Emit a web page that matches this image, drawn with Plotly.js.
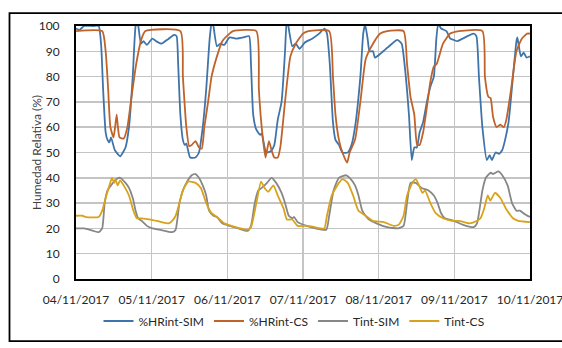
<!DOCTYPE html>
<html>
<head>
<meta charset="utf-8">
<script src="https://cdn.plot.ly/plotly-3.0.1.min.js"></script>
<style>html,body{margin:0;padding:0;background:#fff;}#chart{width:562px;height:348px;}</style>
</head>
<body>
<div id="chart"></div>
<script>
// Hours since 04/11/2017 00:00 and values
const hrSimH = [0,1.1,2.6,5.5,7.2,8.0,8.6,9.4,10.0,10.6,11.1,12.3,14.0,15.7,16.8,18.0,18.9,19.5,20.6,21.4,22.5,24.2,25.4,27.1,29.4,31.1,31.9,32.4,33.1,33.9,34.5,35.0,36.2,37.9,39.0,40.2,41.3,42.4,43.2,44.7,45.8,47.0,48.7,51.0,53.2,54.9,55.5,56.2,57.2,58.4,58.9,60.3,61.8,62.9,64.0,65.2,66.3,66.9,68.6,69.7,70.9,72.6,74.9,77.1,78.8,79.6,80.5,81.5,82.3,83.4,84.5,86.2,87.4,88.5,90.2,91.1,91.7,92.5,93.1,94.2,94.8,96.5,99.3,101.9,103.3,104.2,105.6,106.5,107.3,108.1,109.0,110.1,111.3,112.4,113.5,114.3,114.9,115.8,117.5,118.7,119.8,120.9,122.6,126.1,127.0,127.8,128.9,130.3,131.2,131.9,133.1,134.2,135.2,136.1,137.2,138.6,139.7,140.0,141.1,142.0,142.9,144];
const hrSimV = [99,98.5,100,100,100,92,75,58,55,54,56,51,48.5,52,60,80,100,102,93,94,92.5,95,94,93,95,96.5,96,85,65,55,53,53.5,48,48,50,60,75,95,103,92,93,92.5,95.5,95,95.5,96,85,65,59,57,57.5,50,50.5,53,63,70,90,103,92,93,91,93.5,95,97,99,97,85,62,55,53,50,50,53,60,80,97,100.5,95,90,90,87.5,89,92,94.5,93,85,65,47,52,52,58,62,70,76,80,95,101,99,98,95,94.5,94,95,97,96,80,60,47,49,47,50,49.5,51,55,62,80,94,95.5,88,89.5,87.5,88];

const hrCsH = [0,8.3,9.4,10.2,10.9,11.9,12.4,12.9,13.3,13.8,15.1,16.3,17.4,19.1,20.8,22.0,33.1,33.9,35.0,35.9,36.7,37.9,39.0,39.9,40.7,41.9,43.0,44.7,46.4,48.7,49.8,57.2,58.0,58.9,60.1,61.2,62.0,62.9,64.0,64.8,66.3,68.0,69.7,72.0,73.7,80.3,81.5,82.3,83.4,84.5,86.0,86.8,88.5,90.2,91.9,94.2,96.5,98.7,103.9,105.0,106.1,107.3,108.2,109.0,110.1,111.3,112.4,113.5,114.4,116.4,118.7,121.5,128.9,129.7,130.8,131.5,132.3,133.4,134.6,135.7,136.5,138.0,139.7,141.4,143.1,144];
const hrCsV = [98,98,90,75,60,56,60,65,60,56,55.5,60,70,85,95,98,98,80,60,52.5,53,54.5,52,51.5,60,70,80,88,94,97,98,98,75,60,48,54.5,51,48,48,52,70,88,93,97,98,98,80,65,55,50,46,50,55,70,87,93,97,98,98,85,72,65,53,53,58,68,78,84,85,93,97,98,98,80,72,71.5,64,60,61,60,63,75,90,95,97,97];

const tSimH = [0,2.6,5.5,7.2,8.3,9.1,10.0,11.1,12.9,14.0,15.7,16.8,18.0,18.9,19.7,20.8,22.5,24.2,26.5,30.5,31.6,32.8,33.9,35.0,36.7,37.9,39.0,40.2,41.3,42.2,43.6,44.7,46.4,48.7,51.5,54.4,55.5,56.7,57.8,58.9,60.6,62.0,63.5,65.2,66.3,67.5,68.6,69.2,70.3,73.2,76.0,79.4,80.3,81.7,83.4,85.7,86.8,88.5,89.6,90.8,92.5,95.3,98.7,102.2,103.9,105.0,106.1,107.8,109.6,111.8,113.5,114.7,115.8,117.0,119.8,122.6,126.1,127.2,128.9,130.0,131.5,132.3,134.0,135.2,136.9,138.3,139.7,140.8,142.5,144];
const tSimV = [20,20,19,18.5,20,30,35,37,39.5,40,38,36,32,27,24,23,21,20,19.5,18.5,19.5,30,35,38,41,41.5,40,37,33,27,25,24.5,22,21,20,19,21,30,35,36,38,40,38,34,30,25,24,24.5,22.5,21,20,19.5,25,35,40,41,40,37,33,27,24,22,20.5,20,21,30,38,38,36,35,33,30,26,24,23,21.5,20.5,22,35,40,42,41.5,42.5,41,37,30,27,27,25.5,24.5];

const tCsH = [0,2.0,3.2,7.2,8.3,9.4,10.6,11.4,12.1,12.5,13.2,14.0,15.1,16.8,18.2,19.3,20.8,23.7,27.1,29.4,30.5,31.6,32.8,33.9,35.6,37.9,39.6,41.3,43.0,44.7,47.0,49.3,52.1,54.4,55.5,57.2,58.7,59.8,61.0,62.6,64.0,65.8,66.9,68.6,70.3,73.7,77.7,78.8,79.6,81.1,83.4,84.5,86.2,87.9,89.6,91.9,94.2,97.6,100.8,102.4,103.9,105.0,106.7,107.8,108.8,109.9,110.7,112.4,114.1,116.4,119.2,121.5,124.9,127.2,128.3,129.5,130.6,131.4,132.9,134.6,136.3,138.6,140.3,144];
const tCsV = [25,25,24.5,24.5,27,32,37,40,38,39.5,37,39,37,33,27,24,24,23.5,22.5,22,23,25,30,35,38.5,38,36,30,26,24.5,22,21,20,19.5,20.5,30,38.5,36,34.5,37,33,28,23.5,23.5,21,21,20,20,25,33,38,39.5,38,33,27,25,23,22.5,21,21.5,25,33,38,39.5,37,34,35,30,26,24,23,23,22,23,24,28,33,31,34,32,28,24,23,22.5];

const tickDates = ['2017-11-04','2017-11-05','2017-11-06','2017-11-07','2017-11-08','2017-11-09','2017-11-10'];
const tickLabels = ['04/11/2017','05/11/2017','06/11/2017','07/11/2017','08/11/2017','09/11/2017','10/11/2017'];

const seriesNames = ['%HRint-SIM','%HRint-CS','Tint-SIM','Tint-CS'];
const seriesColors = ['#3F74AA','#C0632A','#878787','#D9A21B'];

const start = Date.UTC(2017,10,4);
function toDate(h){
  const d = new Date(start + Math.round(h*3600000));
  return d.toISOString().slice(0,19).replace('T',' ');
}
const xs = [hrSimH, hrCsH, tSimH, tCsH].map(a => a.map(toDate));
const ys = [hrSimV, hrCsV, tSimV, tCsV];

const traces = seriesNames.map((n,i) => ({
  x: xs[i], y: ys[i], name: n, type: 'scatter', mode: 'lines',
  line: {color: seriesColors[i], width: 1.8, shape: 'spline', smoothing: 0.5}
}));

const L = 76, R = 530, T = 26, B = 291, W = 562, H = 348;
const pw = R - L, ph = B - T;
const px = v => (v - L) / pw;
const py = v => (B - v) / ph;

const layout = {
  width: W, height: H,
  margin: {l: L, r: W - R, t: T, b: H - B, pad: 0},
  paper_bgcolor: '#ffffff', plot_bgcolor: '#ffffff',
  font: {family: 'Lato, "Open Sans", sans-serif', size: 12, color: '#262626'},
  showlegend: true,
  legend: {orientation: 'h', x: px(294), xanchor: 'center', y: py(335), yanchor: 'middle',
           font: {size: 12, color: '#262626'}, bgcolor: 'rgba(0,0,0,0)'},
  xaxis: {
    type: 'date', range: ['2017-11-04 00:00:00', '2017-11-10 00:00:00'],
    tickmode: 'array', tickvals: tickDates, ticktext: tickLabels,
    ticklabeloverflow: 'allow',
    showgrid: true, gridcolor: '#C4C4C4', gridwidth: 1.5,
    showline: true, linecolor: '#000000', linewidth: 2, mirror: true,
    ticks: '', ticklabelstandoff: 9, zeroline: false,
    tickfont: {size: 12, color: '#262626'}
  },
  yaxis: {
    range: [0, 100], dtick: 10, tick0: 0,
    showgrid: true, gridcolor: '#C4C4C4', gridwidth: 1.5,
    showline: true, linecolor: '#000000', linewidth: 2, mirror: true,
    ticks: '', ticklabelstandoff: 12, zeroline: false,
    tickfont: {size: 12, color: '#262626'},
    title: {text: 'Humedad Relativa (%)', font: {size: 12, color: '#404040'}}
  },
  shapes: [{
    type: 'rect', xref: 'paper', yref: 'paper',
    x0: px(9.5), x1: px(570), y0: py(356), y1: py(12.5),
    line: {color: '#000000', width: 1.8}, fillcolor: 'rgba(0,0,0,0)', layer: 'below'
  }]
};

Plotly.newPlot('chart', traces, layout, {displayModeBar: false, staticPlot: true});
</script>
</body>
</html>
